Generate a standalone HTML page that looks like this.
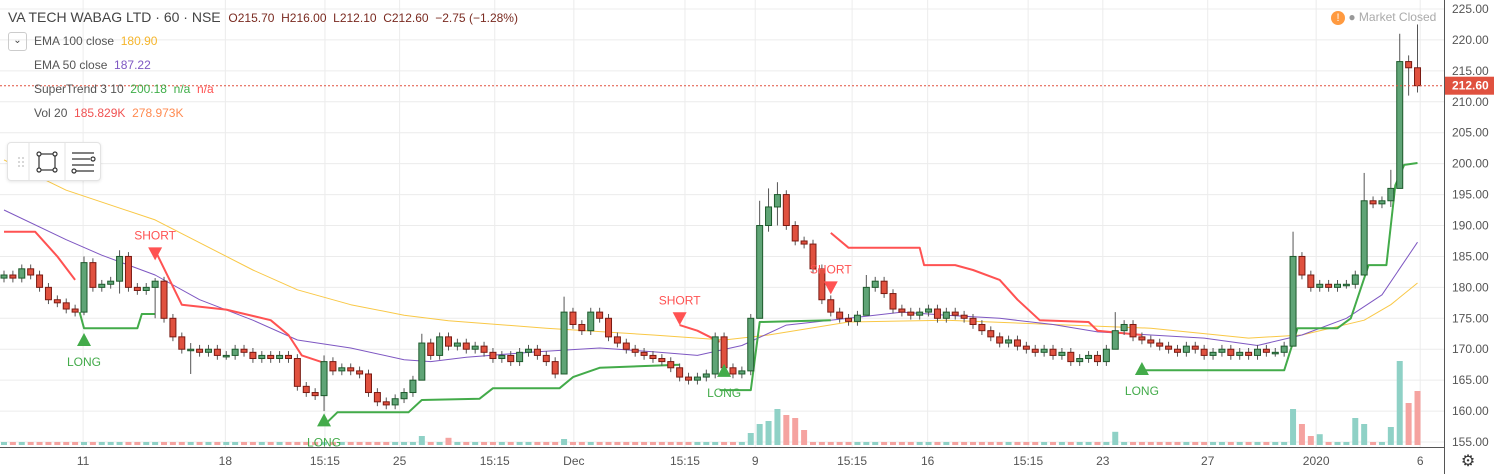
<!DOCTYPE html>
<html><head><meta charset="utf-8">
<style>
body{margin:0;background:#fff;font-family:"Liberation Sans",sans-serif;}
#wrap{position:relative;width:1494px;height:474px;overflow:hidden;}
svg{position:absolute;left:0;top:0;}
.lg{position:absolute;font-size:12px;color:#555;white-space:nowrap;}
</style></head><body>
<div id="wrap">
<svg id="chart" width="1494" height="474"></svg>
<div class="lg" style="left:8px;top:9px;font-size:14px;color:#444">VA TECH WABAG LTD · 60 · NSE &nbsp;<span style="font-size:12px;color:#7a2a20">O215.70 &nbsp;H216.00 &nbsp;L212.10 &nbsp;C212.60 &nbsp;−2.75 (−1.28%)</span></div>
<div style="position:absolute;left:8px;top:32px;width:17px;height:17px;border:1px solid #ccc;border-radius:3px;font-size:10px;text-align:center;line-height:16px;color:#444">⌄</div>
<div class="lg" style="left:34px;top:34px">EMA 100 close &nbsp;<span style="color:#f5b52b">180.90</span></div>
<div class="lg" style="left:34px;top:58px">EMA 50 close &nbsp;<span style="color:#7e57c2">187.22</span></div>
<div class="lg" style="left:34px;top:82px">SuperTrend 3 10 &nbsp;<span style="color:#3fae49">200.18 &nbsp;n/a</span> &nbsp;<span style="color:#ff5252">n/a</span></div>
<div class="lg" style="left:34px;top:106px">Vol 20 &nbsp;<span style="color:#f05252">185.829K</span> &nbsp;<span style="color:#ff8a50">278.973K</span></div>
<div style="position:absolute;left:7px;top:142px;width:92px;height:37px;border:1px solid #e3e3e3;border-radius:4px;background:#fff;box-shadow:0 1px 3px rgba(0,0,0,.1)">
<svg width="92" height="37" style="position:static"><g stroke="#333" fill="none" stroke-width="1.2"><rect x="31" y="11" width="16" height="16"/><circle cx="31" cy="11" r="2" fill="#fff"/><circle cx="47" cy="11" r="2" fill="#fff"/><circle cx="31" cy="27" r="2" fill="#fff"/><circle cx="47" cy="27" r="2" fill="#fff"/><line x1="64" y1="10" x2="86" y2="10"/><line x1="64" y1="16" x2="82" y2="16"/><line x1="64" y1="22" x2="86" y2="22"/><line x1="68" y1="28" x2="86" y2="28"/><circle cx="66" cy="28" r="2" fill="#fff"/><circle cx="85" cy="16" r="2" fill="#fff"/></g><line x1="21" y1="0" x2="21" y2="37" stroke="#e3e3e3"/><line x1="57" y1="0" x2="57" y2="37" stroke="#e3e3e3"/><g fill="#ccc"><circle cx="11" cy="15" r="1"/><circle cx="15" cy="15" r="1"/><circle cx="11" cy="19" r="1"/><circle cx="15" cy="19" r="1"/><circle cx="11" cy="23" r="1"/><circle cx="15" cy="23" r="1"/></g></svg></div>
<div class="lg" style="left:1331px;top:10px;color:#aaa"><span style="display:inline-block;width:14px;height:14px;border-radius:7px;background:#ff9a40;color:#fff;text-align:center;font-size:11px;line-height:14px">!</span> <span style="color:#999">●</span> Market Closed</div>
</div>
<script>
const closes=[182,181.5,183,182,180,178,177.5,176.5,176,184,180,180.5,181,185,180,179.5,180,181,175,172,170,170,169.5,170,169,169,170,169.5,168.5,169,168.5,169,168.5,164,163,162.5,168,166.5,167,166.5,166,163,161.5,161,162,163,165,171,169,172,170.5,171,170,170.5,169.5,168.5,169,168,169.5,170,169,168,166,176,174,173,176,175,172,171,170,169.5,169,168.5,168,167,165.5,165,165.5,166,172,167,166,166.5,175,190,193,195,190,187.5,187,183,178,176,175,174.5,175.5,180,181,179,176.5,176,175.5,176,176.5,175,176,175.5,175,174,173,172,171,171.5,170.5,170,169.5,170,169,169.5,168,168.5,169,168,170,173,174,172,171.5,171,170.5,170,169.5,170.5,170,169,169.5,170,169,169.5,169,170,169.5,169.5,170.5,185,182,180,180.5,180,180.5,180.5,182,194,193.5,194,196,216.5,215.5,212.6];
const firstOpen=181.5;
const spikes=[[9,185,175.5],[13,186,179],[17,181.5,175],[21,171,166],[36,169,160],[47,172.5,169],[63,178.5,166],[85,194,180],[86,196,189],[87,197,190],[97,182,178],[125,176,171],[145,189,183],[153,198.5,184],[156,199,193],[157,221,198],[158,217.5,211],[159,222.5,211.5]];
const volIdx=[47,50,63,84,85,86,87,88,89,90,125,145,146,147,148,152,153,156,157,158,159];
const volVals=[15,12,10,20,35,40,60,50,45,25,22,60,35,15,18,45,35,30,140,70,90];
const ema50=[[0,192.5],[7,187.7],[11,185.2],[17,182],[22,178],[28,174.7],[33,171.5],[39,170.2],[45,168.3],[48,168],[52,168.7],[60,169.6],[67,170.2],[73,169.6],[78,169],[83,170.6],[88,173.9],[95,175],[101,176],[106,175.5],[112,175],[118,174],[123,172.8],[129,172.3],[135,171.8],[141,170.6],[146,172.3],[151,175],[155,178.8],[159,187.3]];
const ema100=[[0,200.6],[7,195.7],[17,190.9],[28,182.8],[33,179.6],[39,177.2],[45,175.5],[50,174.6],[61,173.4],[73,172.3],[81,171.5],[86,172.3],[95,174.4],[106,174.7],[118,174],[129,173.4],[140,171.8],[146,172.3],[153,174.7],[156,177.2],[159,180.7]];
const stRed=[[[0,189],[3.5,189],[6,185],[8,181.2]],[[17,186],[20,177.2],[25,176.4],[30,174.7],[32,172.3],[33.5,169],[36,167.8]],[[76,173.9],[78,173],[80.5,171.2]],[[93,188.8],[95,186.4],[103,186.4],[103.5,183.6],[107,183.6],[109,182.8],[112,181.2],[114,178],[116.5,174.7],[122,174.4],[123,173],[128,172.3]]];
const stGreen=[[[8.5,176],[9,173.4],[15,173.4],[15.5,175.7],[17,175.7]],[[36,157.7],[37.5,159.8],[45.5,159.8],[47,161.8],[53.5,162],[55,163.7],[62.5,163.7],[64,165.5],[67,167],[76,167.5]],[[80.5,163.4],[84,163.4],[85,174.4],[93,174.7]],[[128,166.6],[144,166.6],[145.5,173.4],[150,173.4],[151.5,175],[153.5,183.6],[155.5,183.6],[156.5,196.5],[157.5,199.8],[159,200.1]]];
const signals=[[9,'LONG',171.5],[17,'SHORT',185.5],[36,'LONG',158.5],[76,'SHORT',175],[81,'LONG',166.5],[93,'SHORT',180],[128,'LONG',166.8]];
const priceTicks=[225,220,215,210,205,200,195,190,185,180,175,170,165,160,155];
const timeLabels=[[8.9,'11'],[24.9,'18'],[36.1,'15:15'],[44.5,'25'],[55.2,'15:15'],[64.1,'Dec'],[76.6,'15:15'],[84.5,'9'],[95.4,'15:15'],[103.9,'16'],[115.2,'15:15'],[123.6,'23'],[135.4,'27'],[147.6,'2020'],[159.3,'6']];
const lastPrice=212.6;

const S='http://www.w3.org/2000/svg';
const svg=document.getElementById('chart');
const X=i=>4+i*8.89;
const Y=p=>9+(225-p)*6.186;
const VB=445,VS=0.6;
function mk(t,a,p){const e=document.createElementNS(S,t);for(const k in a)e.setAttribute(k,a[k]);(p||svg).appendChild(e);return e;}
priceTicks.forEach(p=>{const l=mk('line',{x1:0,x2:1444,y1:Y(p),y2:Y(p),stroke:'#ececec'});

});
timeLabels.forEach(t=>{const l=mk('line',{x1:X(t[0]),x2:X(t[0]),y1:0,y2:447,stroke:'#ececec'});

});
closes.forEach((c,i)=>{const o=i?closes[i-1]:firstOpen;const k=volIdx.indexOf(i);const v=k>=0?volVals[k]:5;
const r=mk('rect',{x:X(i)-3,y:VB-v*VS,width:6,height:v*VS,fill:c>=o?'#8fd1c6':'#f5a3a0'});

});
function line(pts,col,w,name){const d=pts.map((p,j)=>(j?'L':'M')+X(p[0]).toFixed(1)+' '+Y(p[1]).toFixed(1)).join(' ');
const e=mk('path',{d:d,fill:'none',stroke:col,'stroke-width':w,'stroke-linejoin':'round'});

}
line(ema100,'#f9c846',1,'ema100-line');
line(ema50,'#7e57c2',1,'ema50-line');
stRed.forEach(s=>line(s,'#ff5252',2,'supertrend-down'));
stGreen.forEach(s=>line(s,'#43ab4a',2,'supertrend-up'));
closes.forEach((c,i)=>{const o=i?closes[i-1]:firstOpen;let hi=Math.max(o,c)+0.7,lo=Math.min(o,c)-0.7;
spikes.forEach(s=>{if(s[0]===i){hi=s[1];lo=s[2];}});
const up=c>=o;const g=mk('g',{});


mk('line',{x1:X(i),x2:X(i),y1:Y(hi),y2:Y(lo),stroke:'#555'},g);
const t=Y(Math.max(o,c)),b=Y(Math.min(o,c));
mk('rect',{x:X(i)-3,y:t,width:6,height:Math.max(b-t,1.5),fill:up?'#5fa476':'#e0513f',stroke:up?'#1d5a2c':'#7a1a12','stroke-width':1},g);});
signals.forEach(s=>{const x=X(s[0]),y=Y(s[2]);const long=s[1]==='LONG';const col=long?'#43ab4a':'#ff5252';
const g=mk('g',{});


if(long){mk('polygon',{points:`${x-7},${y+6} ${x+7},${y+6} ${x},${y-7}`,fill:col},g);
const t=mk('text',{x:x,y:y+26,'text-anchor':'middle','font-size':12,fill:col,'font-family':'Liberation Sans'},g);t.textContent=s[1];}
else{mk('polygon',{points:`${x-7},${y-6} ${x+7},${y-6} ${x},${y+7}`,fill:col},g);
const t=mk('text',{x:x,y:y-14,'text-anchor':'middle','font-size':12,fill:col,'font-family':'Liberation Sans'},g);t.textContent=s[1];}});
mk('line',{x1:0,x2:1444,y1:Y(lastPrice),y2:Y(lastPrice),stroke:'#e0513f','stroke-dasharray':'2,2'});
mk('rect',{x:1445,y:0,width:49,height:474,fill:'#fff'});
mk('rect',{x:0,y:448,width:1445,height:26,fill:'#fff'});
mk('line',{x1:1444.5,x2:1444.5,y1:0,y2:474,stroke:'#555'});
mk('line',{x1:0,x2:1444,y1:447.5,y2:447.5,stroke:'#555'});
priceTicks.forEach(p=>{const t=mk('text',{x:1452,y:Y(p)+4,'font-size':12,fill:'#555','font-family':'Liberation Sans'});t.textContent=p.toFixed(2);

});
timeLabels.forEach(l=>{const t=mk('text',{x:X(l[0]),y:465,'text-anchor':'middle','font-size':12,fill:'#555','font-family':'Liberation Sans'});t.textContent=l[1];

});
const tag=mk('rect',{x:1445,y:Y(lastPrice)-9,width:49,height:18,fill:'#e0513f'});


const tt=mk('text',{x:1452,y:Y(lastPrice)+4,'font-size':12,fill:'#fff','font-weight':'bold','font-family':'Liberation Sans'});tt.textContent=lastPrice.toFixed(2);
const gear=mk('text',{x:1468,y:466,'text-anchor':'middle','font-size':16,fill:'#333'});gear.textContent='⚙';


</script>
</body></html>
